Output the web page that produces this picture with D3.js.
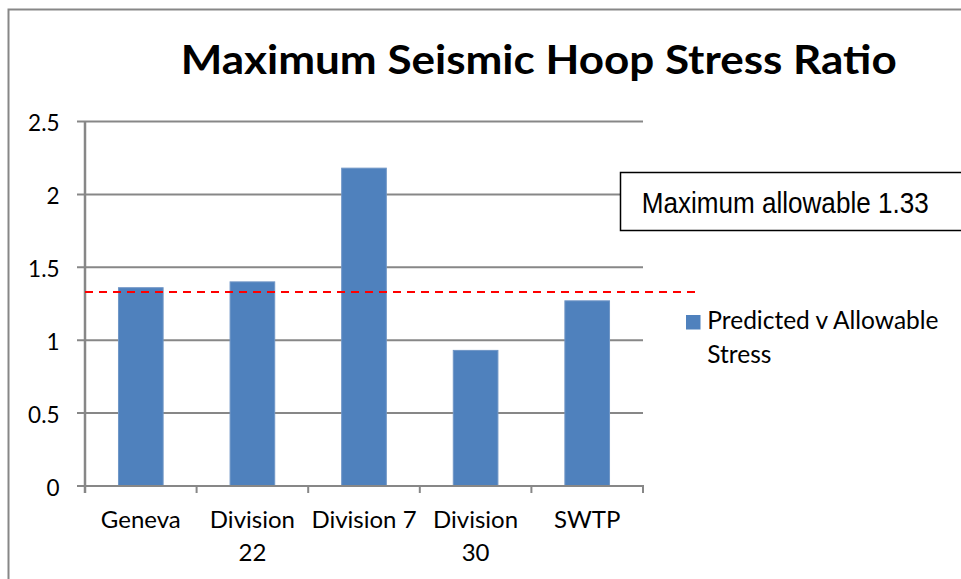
<!DOCTYPE html>
<html>
<head>
<meta charset="utf-8">
<script src="https://cdn.jsdelivr.net/npm/d3@7"></script>
<style>
  html, body { margin: 0; padding: 0; background: #fff; }
  svg { display: block; }
</style>
</head>
<body>
<script>
// Chart data
const categories = ["Geneva", "Division 22", "Division 7", "Division 30", "SWTP"];
const categoryLabelLines = [["Geneva"], ["Division", "22"], ["Division 7"], ["Division", "30"], ["SWTP"]];
const ratioValues = [1.36, 1.40, 2.18, 0.93, 1.27];
const yTickValues = [0, 0.5, 1, 1.5, 2, 2.5];
const yTickLabels = ["0", "0.5", "1", "1.5", "2", "2.5"];
const allowableLimit = 1.33;
const titleText = "Maximum Seismic Hoop Stress Ratio";
const limitLabel = "Maximum allowable 1.33";
const legendLines = ["Predicted v Allowable", "Stress"];

const W = 961, H = 579;
const plot = { left: 85, right: 643, top: 121.5, bottom: 486 };
const labelFont = "Lato, 'Open Sans', sans-serif";

const svg = d3.select("body").append("svg")
  .attr("width", W).attr("height", H);

// Outer chart frame (runs off the right and bottom edges)
svg.append("rect")
  .attr("x", 8.5).attr("y", 9.5)
  .attr("width", W + 20).attr("height", H + 20)
  .attr("fill", "#fff").attr("stroke", "#878787").attr("stroke-width", 2);

// Title
svg.append("text")
  .attr("x", 180.7).attr("y", 74.3)
  .attr("font-family", labelFont)
  .attr("font-weight", 700).attr("font-size", 40)
  .attr("textLength", 716).attr("lengthAdjust", "spacingAndGlyphs")
  .attr("fill", "#000")
  .text(titleText);

const x = d3.scaleBand()
  .domain(categories)
  .range([plot.left, plot.right])
  .paddingInner(0.6)
  .paddingOuter(0.3);

const y = d3.scaleLinear()
  .domain([0, 2.5])
  .range([plot.bottom, plot.top]);

const gridColor = "#878787";

// Horizontal gridlines and left tick marks
const yg = svg.append("g");
yg.selectAll("line.grid").data(yTickValues).join("line")
  .attr("class", "grid")
  .attr("x1", plot.left - 8).attr("x2", plot.right)
  .attr("y1", d => y(d)).attr("y2", d => y(d))
  .attr("stroke", gridColor).attr("stroke-width", 2);

// Y axis labels
yg.selectAll("text").data(yTickValues).join("text")
  .attr("x", 59.5).attr("y", d => y(d) + 9.5)
  .attr("text-anchor", "end")
  .attr("font-family", labelFont)
  .attr("font-size", 22.5)
  .attr("fill", "#000")
  .text((d, i) => yTickLabels[i]);

// Y axis line
svg.append("line")
  .attr("x1", plot.left).attr("x2", plot.left)
  .attr("y1", plot.top).attr("y2", plot.bottom + 7)
  .attr("stroke", gridColor).attr("stroke-width", 2.5);

// X axis ticks at category boundaries
const step = x.step();
const x0 = plot.left;
const boundaries = d3.range(categories.length + 1).map(i => x0 + i * step);
svg.append("g").selectAll("line").data(boundaries).join("line")
  .attr("x1", d => d).attr("x2", d => d)
  .attr("y1", plot.bottom).attr("y2", plot.bottom + 7)
  .attr("stroke", gridColor).attr("stroke-width", 2);

// Bars
svg.append("g").selectAll("rect").data(ratioValues).join("rect")
  .attr("x", (d, i) => x(categories[i]))
  .attr("y", d => y(d))
  .attr("width", x.bandwidth())
  .attr("height", d => y(0) - y(d))
  .attr("fill", "#4F81BD")
  .attr("stroke", "#7096C6").attr("stroke-width", 1);

// X axis baseline
svg.append("line")
  .attr("x1", plot.left).attr("x2", plot.right + 1)
  .attr("y1", plot.bottom).attr("y2", plot.bottom)
  .attr("stroke", gridColor).attr("stroke-width", 2);

// Category labels
const xl = svg.append("g").selectAll("text").data(categories).join("text")
  .attr("x", d => x(d) + x.bandwidth() / 2)
  .attr("y", 528.3)
  .attr("text-anchor", "middle")
  .attr("font-family", labelFont)
  .attr("font-size", 24)
  .attr("fill", "#000");
xl.selectAll("tspan").data((d, i) => categoryLabelLines[i]).join("tspan")
  .attr("x", function () { return d3.select(this.parentNode).attr("x"); })
  .attr("dy", (d, j) => j === 0 ? 0 : 32.4)
  .text(d => d);

// Allowable limit line
svg.append("line")
  .attr("x1", plot.left).attr("x2", 700)
  .attr("y1", y(allowableLimit)).attr("y2", y(allowableLimit))
  .attr("stroke", "#ff0000").attr("stroke-width", 2)
  .attr("stroke-dasharray", "8,6");

// Limit annotation box (open on the right, running past the frame)
svg.append("rect")
  .attr("x", 620.5).attr("y", 172.5)
  .attr("width", 342).attr("height", 58)
  .attr("fill", "#fff").attr("stroke", "#000").attr("stroke-width", 1.5);
svg.append("text")
  .attr("x", 641.7).attr("y", 213.3)
  .attr("font-family", "'Liberation Sans', Arial, sans-serif")
  .attr("font-size", 30)
  .attr("textLength", 287).attr("lengthAdjust", "spacingAndGlyphs")
  .attr("fill", "#000")
  .text(limitLabel);

// Legend
svg.append("rect")
  .attr("x", 686).attr("y", 315)
  .attr("width", 14.5).attr("height", 14.5)
  .attr("fill", "#4F81BD");
svg.append("text")
  .attr("x", 707.3).attr("y", 329.3)
  .attr("font-family", labelFont)
  .attr("font-size", 24.5)
  .attr("fill", "#000")
  .selectAll("tspan").data(legendLines).join("tspan")
  .attr("x", 707.3)
  .attr("dy", (d, i) => i === 0 ? 0 : 33.4)
  .text(d => d);
</script>
</body>
</html>
